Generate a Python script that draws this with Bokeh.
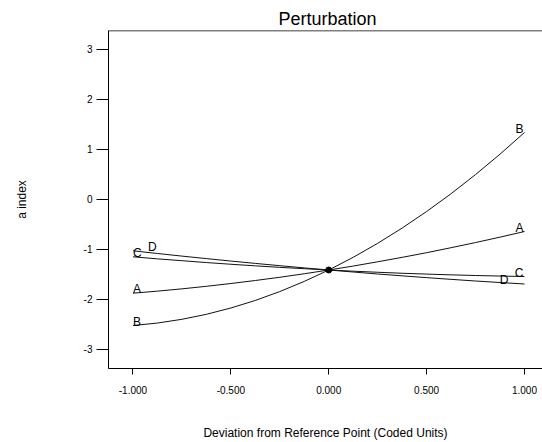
from bokeh.plotting import figure
from bokeh.models import ColumnDataSource, FixedTicker, Range1d, Span
from bokeh.core.properties import value
from bokeh.embed import file_html
from bokeh.resources import INLINE

# Deviation from reference point (coded units)
dev = [-1.0, -0.875, -0.75, -0.625, -0.5, -0.375, -0.25, -0.125, 0.0,
       0.125, 0.25, 0.375, 0.5, 0.625, 0.75, 0.875, 1.0]

# a index for each factor
A = [-1.884, -1.843, -1.797, -1.746, -1.690, -1.630, -1.565, -1.495, -1.42,
     -1.341, -1.256, -1.167, -1.074, -0.974, -0.871, -0.763, -0.65]
B = [-2.53, -2.481, -2.406, -2.306, -2.18, -2.029, -1.851, -1.648, -1.42,
     -1.166, -0.887, -0.581, -0.25, 0.106, 0.489, 0.897, 1.33]
C = [-1.156, -1.197, -1.234, -1.271, -1.305, -1.337, -1.367, -1.394, -1.42,
     -1.444, -1.465, -1.485, -1.502, -1.517, -1.530, -1.541, -1.55]
D = [-1.036, -1.090, -1.142, -1.192, -1.241, -1.288, -1.334, -1.378, -1.42,
     -1.460, -1.500, -1.537, -1.573, -1.607, -1.640, -1.670, -1.70]

series_names = ["A", "B", "C", "D"]
series_values = [A, B, C, D]

ref_x = [0.0]
ref_y = [-1.42]

x_ticks = [-1.0, -0.5, 0.0, 0.5, 1.0]
x_tick_labels = ["-1.000", "-0.500", "0.000", "0.500", "1.000"]
y_ticks = [-3, -2, -1, 0, 1, 2, 3]
y_tick_labels = ["-3", "-2", "-1", "0", "1", "2", "3"]

FONT = "Liberation Sans"

p = figure(width=542, height=442, output_backend="svg", toolbar_location=None,
           x_range=Range1d(-1.125, 1.092), y_range=Range1d(-3.39, 3.37),
           min_border_left=108, min_border_right=0, min_border_top=30,
           min_border_bottom=74,
           x_axis_label="Deviation from Reference Point (Coded Units)",
           y_axis_label="a index")

p.title.text = "Perturbation"
p.title.text_font = FONT
p.title.text_font_size = "18px"
p.title.text_font_style = "normal"
p.title.text_color = "black"
p.title.align = "left"
p.title.offset = 170
p.title.standoff = 3

p.grid.visible = False
p.outline_line_color = None
p.background_fill_color = "white"
p.border_fill_color = "white"

xax = p.below[0]
yax = p.left[0]

for ax in (xax, yax):
    ax.axis_line_color = "black"
    ax.major_tick_line_color = "black"
    ax.minor_tick_line_color = None
    ax.major_tick_in = 0
    ax.major_label_text_font = FONT
    ax.major_label_text_font_size = "10px"
    ax.major_label_text_color = "black"
    ax.axis_label_text_font = FONT
    ax.axis_label_text_font_size = "12px"
    ax.axis_label_text_font_style = "normal"
    ax.axis_label_text_color = "black"

xax.ticker = FixedTicker(ticks=x_ticks)
xax.major_label_overrides = dict(zip(x_ticks, x_tick_labels))
xax.major_tick_out = 6
xax.major_label_standoff = 11
xax.axis_label_standoff = 29

yax.ticker = FixedTicker(ticks=y_ticks)
yax.major_label_overrides = dict(zip(y_ticks, y_tick_labels))
yax.major_tick_out = 12
yax.major_label_standoff = 4
yax.axis_label_standoff = 52

# top frame line
p.add_layout(Span(location=p.y_range.end, dimension="width",
                  line_color="black", line_width=1.5))

for name, vals in zip(series_names, series_values):
    p.line(dev, vals, line_color="#111111", line_width=1)

p.scatter(ref_x, ref_y, size=6, color="black")

# end labels
left_src = ColumnDataSource(dict(
    x=[dev[0]] * len(series_names),
    y=[v[0] for v in series_values],
    t=series_names,
    xo=[15 if n == "D" else 0 for n in series_names],
))
right_src = ColumnDataSource(dict(
    x=[dev[-1]] * len(series_names),
    y=[v[-1] for v in series_values],
    t=series_names,
    xo=[-16 if n == "D" else -1 for n in series_names],
))
p.text(x="x", y="y", text="t", x_offset="xo", y_offset=-4, source=left_src,
       text_align="left", text_baseline="alphabetic",
       text_font=value(FONT), text_font_size="12px", text_color="black")
p.text(x="x", y="y", text="t", x_offset="xo", y_offset=-4, source=right_src,
       text_align="right", text_baseline="alphabetic",
       text_font=value(FONT), text_font_size="12px", text_color="black")

open("out.html", "w").write(file_html(p, INLINE))
